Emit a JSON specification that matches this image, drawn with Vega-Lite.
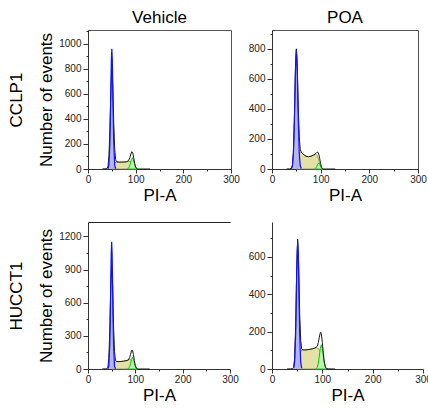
{
"$schema": "https://vega.github.io/schema/vega-lite/v6.json",
"padding": {"left": 7, "top": 8, "right": 0, "bottom": 0},
"background": "white",
"data": {"values": [
{"p":"TL","c":"G1","x":42,"y":2},{"p":"TL","c":"G1","x":44,"y":32},{"p":"TL","c":"G1","x":46,"y":211},{"p":"TL","c":"G1","x":47,"y":410},{"p":"TL","c":"G1","x":48,"y":658},{"p":"TL","c":"G1","x":49,"y":874},{"p":"TL","c":"G1","x":50,"y":960},{"p":"TL","c":"G1","x":51,"y":874},{"p":"TL","c":"G1","x":52,"y":658},{"p":"TL","c":"G1","x":53,"y":410},{"p":"TL","c":"G1","x":54,"y":211},{"p":"TL","c":"G1","x":56,"y":32},{"p":"TL","c":"G1","x":58,"y":2},
{"p":"TL","c":"S","x":50,"y":0},{"p":"TL","c":"S","x":53,"y":30},{"p":"TL","c":"S","x":56,"y":50},{"p":"TL","c":"S","x":60,"y":55},{"p":"TL","c":"S","x":70,"y":55},{"p":"TL","c":"S","x":80,"y":57},{"p":"TL","c":"S","x":88,"y":60},{"p":"TL","c":"S","x":90,"y":58},{"p":"TL","c":"S","x":92,"y":52},{"p":"TL","c":"S","x":94,"y":40},{"p":"TL","c":"S","x":96,"y":25},{"p":"TL","c":"S","x":98,"y":12},{"p":"TL","c":"S","x":100,"y":4},{"p":"TL","c":"S","x":102,"y":0},
{"p":"TL","c":"G2","x":83,"y":2},{"p":"TL","c":"G2","x":85,"y":7},{"p":"TL","c":"G2","x":87,"y":21},{"p":"TL","c":"G2","x":89,"y":47},{"p":"TL","c":"G2","x":91,"y":76},{"p":"TL","c":"G2","x":93,"y":90},{"p":"TL","c":"G2","x":95,"y":76},{"p":"TL","c":"G2","x":97,"y":47},{"p":"TL","c":"G2","x":99,"y":21},{"p":"TL","c":"G2","x":101,"y":7},{"p":"TL","c":"G2","x":103,"y":2},
{"p":"TL","c":"T","x":30,"y":0},{"p":"TL","c":"T","x":36,"y":2},{"p":"TL","c":"T","x":40,"y":3},{"p":"TL","c":"T","x":42,"y":23},{"p":"TL","c":"T","x":44,"y":108},{"p":"TL","c":"T","x":46,"y":329},{"p":"TL","c":"T","x":48,"y":641},{"p":"TL","c":"T","x":50,"y":800},{"p":"TL","c":"T","x":52,"y":661},{"p":"TL","c":"T","x":54,"y":366},{"p":"TL","c":"T","x":56,"y":158},{"p":"TL","c":"T","x":58,"y":75},{"p":"TL","c":"T","x":60,"y":58},{"p":"TL","c":"T","x":65,"y":55},{"p":"TL","c":"T","x":70,"y":55},{"p":"TL","c":"T","x":75,"y":56},{"p":"TL","c":"T","x":80,"y":57},{"p":"TL","c":"T","x":85,"y":66},{"p":"TL","c":"T","x":88,"y":92},{"p":"TL","c":"T","x":90,"y":120},{"p":"TL","c":"T","x":92,"y":138},{"p":"TL","c":"T","x":94,"y":126},{"p":"TL","c":"T","x":96,"y":87},{"p":"TL","c":"T","x":98,"y":44},{"p":"TL","c":"T","x":100,"y":16},{"p":"TL","c":"T","x":102,"y":4},{"p":"TL","c":"T","x":104,"y":1},{"p":"TL","c":"T","x":106,"y":0},{"p":"TL","c":"T","x":130,"y":0},
{"p":"TR","c":"G1","x":40,"y":3},{"p":"TR","c":"G1","x":42,"y":23},{"p":"TR","c":"G1","x":44,"y":107},{"p":"TR","c":"G1","x":46,"y":325},{"p":"TR","c":"G1","x":47,"y":480},{"p":"TR","c":"G1","x":48,"y":633},{"p":"TR","c":"G1","x":49,"y":747},{"p":"TR","c":"G1","x":50,"y":790},{"p":"TR","c":"G1","x":51,"y":747},{"p":"TR","c":"G1","x":52,"y":633},{"p":"TR","c":"G1","x":53,"y":480},{"p":"TR","c":"G1","x":54,"y":325},{"p":"TR","c":"G1","x":56,"y":107},{"p":"TR","c":"G1","x":58,"y":23},{"p":"TR","c":"G1","x":60,"y":3},
{"p":"TR","c":"S","x":50,"y":0},{"p":"TR","c":"S","x":53,"y":60},{"p":"TR","c":"S","x":56,"y":105},{"p":"TR","c":"S","x":60,"y":110},{"p":"TR","c":"S","x":65,"y":95},{"p":"TR","c":"S","x":70,"y":85},{"p":"TR","c":"S","x":75,"y":82},{"p":"TR","c":"S","x":80,"y":85},{"p":"TR","c":"S","x":85,"y":92},{"p":"TR","c":"S","x":90,"y":98},{"p":"TR","c":"S","x":93,"y":90},{"p":"TR","c":"S","x":96,"y":60},{"p":"TR","c":"S","x":99,"y":25},{"p":"TR","c":"S","x":102,"y":5},{"p":"TR","c":"S","x":104,"y":0},
{"p":"TR","c":"G2","x":88,"y":1},{"p":"TR","c":"G2","x":90,"y":5},{"p":"TR","c":"G2","x":92,"y":17},{"p":"TR","c":"G2","x":94,"y":32},{"p":"TR","c":"G2","x":96,"y":40},{"p":"TR","c":"G2","x":98,"y":32},{"p":"TR","c":"G2","x":100,"y":17},{"p":"TR","c":"G2","x":102,"y":5},{"p":"TR","c":"G2","x":104,"y":1},
{"p":"TR","c":"T","x":30,"y":0},{"p":"TR","c":"T","x":36,"y":1},{"p":"TR","c":"T","x":40,"y":4},{"p":"TR","c":"T","x":42,"y":24},{"p":"TR","c":"T","x":44,"y":108},{"p":"TR","c":"T","x":46,"y":330},{"p":"TR","c":"T","x":48,"y":640},{"p":"TR","c":"T","x":50,"y":800},{"p":"TR","c":"T","x":52,"y":680},{"p":"TR","c":"T","x":54,"y":405},{"p":"TR","c":"T","x":56,"y":213},{"p":"TR","c":"T","x":58,"y":131},{"p":"TR","c":"T","x":60,"y":113},{"p":"TR","c":"T","x":65,"y":95},{"p":"TR","c":"T","x":70,"y":85},{"p":"TR","c":"T","x":75,"y":82},{"p":"TR","c":"T","x":80,"y":85},{"p":"TR","c":"T","x":85,"y":92},{"p":"TR","c":"T","x":88,"y":97},{"p":"TR","c":"T","x":90,"y":103},{"p":"TR","c":"T","x":92,"y":110},{"p":"TR","c":"T","x":94,"y":112},{"p":"TR","c":"T","x":96,"y":100},{"p":"TR","c":"T","x":98,"y":69},{"p":"TR","c":"T","x":100,"y":35},{"p":"TR","c":"T","x":102,"y":10},{"p":"TR","c":"T","x":104,"y":2},{"p":"TR","c":"T","x":106,"y":0},{"p":"TR","c":"T","x":130,"y":0},
{"p":"BL","c":"G1","x":42,"y":2},{"p":"BL","c":"G1","x":44,"y":28},{"p":"BL","c":"G1","x":46,"y":220},{"p":"BL","c":"G1","x":47,"y":454},{"p":"BL","c":"G1","x":48,"y":761},{"p":"BL","c":"G1","x":49,"y":1037},{"p":"BL","c":"G1","x":50,"y":1150},{"p":"BL","c":"G1","x":51,"y":1037},{"p":"BL","c":"G1","x":52,"y":761},{"p":"BL","c":"G1","x":53,"y":454},{"p":"BL","c":"G1","x":54,"y":220},{"p":"BL","c":"G1","x":56,"y":28},{"p":"BL","c":"G1","x":58,"y":2},
{"p":"BL","c":"S","x":50,"y":0},{"p":"BL","c":"S","x":53,"y":35},{"p":"BL","c":"S","x":56,"y":62},{"p":"BL","c":"S","x":60,"y":66},{"p":"BL","c":"S","x":70,"y":68},{"p":"BL","c":"S","x":80,"y":75},{"p":"BL","c":"S","x":88,"y":85},{"p":"BL","c":"S","x":92,"y":80},{"p":"BL","c":"S","x":95,"y":55},{"p":"BL","c":"S","x":98,"y":25},{"p":"BL","c":"S","x":101,"y":6},{"p":"BL","c":"S","x":104,"y":0},
{"p":"BL","c":"G2","x":84,"y":1},{"p":"BL","c":"G2","x":86,"y":6},{"p":"BL","c":"G2","x":88,"y":20},{"p":"BL","c":"G2","x":90,"y":50},{"p":"BL","c":"G2","x":92,"y":87},{"p":"BL","c":"G2","x":94,"y":105},{"p":"BL","c":"G2","x":96,"y":87},{"p":"BL","c":"G2","x":98,"y":50},{"p":"BL","c":"G2","x":100,"y":20},{"p":"BL","c":"G2","x":102,"y":6},{"p":"BL","c":"G2","x":104,"y":1},
{"p":"BL","c":"T","x":30,"y":0},{"p":"BL","c":"T","x":36,"y":1},{"p":"BL","c":"T","x":40,"y":2},{"p":"BL","c":"T","x":42,"y":16},{"p":"BL","c":"T","x":44,"y":95},{"p":"BL","c":"T","x":46,"y":340},{"p":"BL","c":"T","x":48,"y":732},{"p":"BL","c":"T","x":50,"y":945},{"p":"BL","c":"T","x":52,"y":755},{"p":"BL","c":"T","x":54,"y":384},{"p":"BL","c":"T","x":56,"y":157},{"p":"BL","c":"T","x":58,"y":80},{"p":"BL","c":"T","x":60,"y":68},{"p":"BL","c":"T","x":65,"y":67},{"p":"BL","c":"T","x":70,"y":68},{"p":"BL","c":"T","x":75,"y":71},{"p":"BL","c":"T","x":80,"y":75},{"p":"BL","c":"T","x":85,"y":81},{"p":"BL","c":"T","x":88,"y":105},{"p":"BL","c":"T","x":90,"y":132},{"p":"BL","c":"T","x":92,"y":167},{"p":"BL","c":"T","x":93,"y":172},{"p":"BL","c":"T","x":94,"y":168},{"p":"BL","c":"T","x":96,"y":132},{"p":"BL","c":"T","x":98,"y":75},{"p":"BL","c":"T","x":100,"y":32},{"p":"BL","c":"T","x":102,"y":10},{"p":"BL","c":"T","x":104,"y":2},{"p":"BL","c":"T","x":106,"y":0},{"p":"BL","c":"T","x":130,"y":0},
{"p":"BR","c":"G1","x":43,"y":4},{"p":"BR","c":"G1","x":45,"y":38},{"p":"BR","c":"G1","x":47,"y":189},{"p":"BR","c":"G1","x":48,"y":331},{"p":"BR","c":"G1","x":49,"y":494},{"p":"BR","c":"G1","x":50,"y":628},{"p":"BR","c":"G1","x":51,"y":680},{"p":"BR","c":"G1","x":52,"y":628},{"p":"BR","c":"G1","x":53,"y":494},{"p":"BR","c":"G1","x":54,"y":331},{"p":"BR","c":"G1","x":55,"y":189},{"p":"BR","c":"G1","x":57,"y":38},{"p":"BR","c":"G1","x":59,"y":4},
{"p":"BR","c":"S","x":51,"y":0},{"p":"BR","c":"S","x":54,"y":50},{"p":"BR","c":"S","x":57,"y":95},{"p":"BR","c":"S","x":60,"y":102},{"p":"BR","c":"S","x":70,"y":103},{"p":"BR","c":"S","x":80,"y":108},{"p":"BR","c":"S","x":88,"y":115},{"p":"BR","c":"S","x":93,"y":110},{"p":"BR","c":"S","x":96,"y":85},{"p":"BR","c":"S","x":99,"y":45},{"p":"BR","c":"S","x":102,"y":15},{"p":"BR","c":"S","x":105,"y":3},{"p":"BR","c":"S","x":107,"y":0},
{"p":"BR","c":"G2","x":88,"y":2},{"p":"BR","c":"G2","x":90,"y":9},{"p":"BR","c":"G2","x":92,"y":30},{"p":"BR","c":"G2","x":94,"y":68},{"p":"BR","c":"G2","x":96,"y":110},{"p":"BR","c":"G2","x":98,"y":130},{"p":"BR","c":"G2","x":100,"y":110},{"p":"BR","c":"G2","x":102,"y":68},{"p":"BR","c":"G2","x":104,"y":30},{"p":"BR","c":"G2","x":106,"y":9},{"p":"BR","c":"G2","x":108,"y":2},
{"p":"BR","c":"T","x":30,"y":0},{"p":"BR","c":"T","x":37,"y":1},{"p":"BR","c":"T","x":41,"y":2},{"p":"BR","c":"T","x":43,"y":8},{"p":"BR","c":"T","x":45,"y":59},{"p":"BR","c":"T","x":47,"y":232},{"p":"BR","c":"T","x":49,"y":528},{"p":"BR","c":"T","x":51,"y":695},{"p":"BR","c":"T","x":53,"y":561},{"p":"BR","c":"T","x":55,"y":297},{"p":"BR","c":"T","x":57,"y":154},{"p":"BR","c":"T","x":59,"y":108},{"p":"BR","c":"T","x":61,"y":102},{"p":"BR","c":"T","x":65,"y":102},{"p":"BR","c":"T","x":70,"y":103},{"p":"BR","c":"T","x":75,"y":105},{"p":"BR","c":"T","x":80,"y":108},{"p":"BR","c":"T","x":85,"y":112},{"p":"BR","c":"T","x":88,"y":117},{"p":"BR","c":"T","x":90,"y":122},{"p":"BR","c":"T","x":92,"y":142},{"p":"BR","c":"T","x":94,"y":170},{"p":"BR","c":"T","x":96,"y":195},{"p":"BR","c":"T","x":97,"y":197},{"p":"BR","c":"T","x":98,"y":188},{"p":"BR","c":"T","x":100,"y":142},{"p":"BR","c":"T","x":102,"y":83},{"p":"BR","c":"T","x":104,"y":37},{"p":"BR","c":"T","x":106,"y":11},{"p":"BR","c":"T","x":108,"y":3},{"p":"BR","c":"T","x":112,"y":1},{"p":"BR","c":"T","x":125,"y":0}
]},
"columns": 2,
"bounds": "flush",
"spacing": {"row": 53, "column": 41},
"concat": [
{
 "width": 143, "height": 139,
 "title": {"text": "Vehicle"},
 "view": {"stroke": "#555"},
 "transform": [{"filter": "datum.p === 'TL'"}],
 "encoding": {
  "x": {"field": "x", "type": "quantitative", "scale": {"domain": [0, 300], "nice": false}, "axis": {"values": [0, 50, 100, 150, 200, 250, 300], "labelExpr": "datum.value % 100 === 0 ? datum.label : ''", "labelFontSize": {"condition": {"test": "datum.value % 100 === 0", "value": 10}, "value": 0}, "tickSize": {"condition": {"test": "datum.value % 100 === 0", "value": 4}, "value": 2}, "title": "PI-A"}},
  "y": {"field": "y", "type": "quantitative", "scale": {"domain": [0, 1110], "nice": false}, "axis": {"values": [0, 100, 200, 300, 400, 500, 600, 700, 800, 900, 1000, 1100], "format": "d", "labelExpr": "datum.value % 200 === 0 ? datum.label : ''", "labelFontSize": {"condition": {"test": "datum.value % 200 === 0", "value": 10}, "value": 0}, "tickSize": {"condition": {"test": "datum.value % 200 === 0", "value": 5}, "value": 2}, "title": ["CCLP1", "Number of events"], "titleLineHeight": 30}}
 },
 "layer": [
  {"transform": [{"filter": "datum.c === 'S'"}], "mark": {"type": "area", "fill": "#e4e1a6", "stroke": "#8c8a5a", "strokeWidth": 0.8}},
  {"transform": [{"filter": "datum.c === 'G2'"}], "mark": {"type": "area", "fill": "#bdf2b4", "stroke": "#00cc00", "strokeWidth": 1}},
  {"transform": [{"filter": "datum.c === 'G1'"}], "mark": {"type": "area", "fill": "#aeaef4", "opacity": 0.9}},
  {"transform": [{"filter": "datum.c === 'T'"}], "mark": {"type": "line", "stroke": "#1a1a1a", "strokeWidth": 1}},
  {"transform": [{"filter": "datum.c === 'G1'"}], "mark": {"type": "line", "stroke": "#1010ff", "strokeWidth": 1.2}}
 ]
},
{
 "width": 146, "height": 139,
 "title": {"text": "POA"},
 "view": {"stroke": "#555"},
 "transform": [{"filter": "datum.p === 'TR'"}],
 "encoding": {
  "x": {"field": "x", "type": "quantitative", "scale": {"domain": [0, 300], "nice": false}, "axis": {"values": [0, 50, 100, 150, 200, 250, 300], "labelExpr": "datum.value % 100 === 0 ? datum.label : ''", "labelFontSize": {"condition": {"test": "datum.value % 100 === 0", "value": 10}, "value": 0}, "tickSize": {"condition": {"test": "datum.value % 100 === 0", "value": 4}, "value": 2}, "title": "PI-A"}},
  "y": {"field": "y", "type": "quantitative", "scale": {"domain": [0, 925], "nice": false}, "axis": {"values": [0, 100, 200, 300, 400, 500, 600, 700, 800, 900], "format": "d", "labelExpr": "datum.value % 200 === 0 ? datum.label : ''", "labelFontSize": {"condition": {"test": "datum.value % 200 === 0", "value": 10}, "value": 0}, "tickSize": {"condition": {"test": "datum.value % 200 === 0", "value": 5}, "value": 2}, "title": null}}
 },
 "layer": [
  {"transform": [{"filter": "datum.c === 'S'"}], "mark": {"type": "area", "fill": "#e4e1a6", "stroke": "#8c8a5a", "strokeWidth": 0.8}},
  {"transform": [{"filter": "datum.c === 'G2'"}], "mark": {"type": "area", "fill": "#bdf2b4", "stroke": "#00cc00", "strokeWidth": 1}},
  {"transform": [{"filter": "datum.c === 'G1'"}], "mark": {"type": "area", "fill": "#aeaef4", "opacity": 0.9}},
  {"transform": [{"filter": "datum.c === 'T'"}], "mark": {"type": "line", "stroke": "#1a1a1a", "strokeWidth": 1}},
  {"transform": [{"filter": "datum.c === 'G1'"}], "mark": {"type": "line", "stroke": "#1010ff", "strokeWidth": 1.2}}
 ]
},
{
 "width": 142, "height": 147,
 "transform": [{"filter": "datum.p === 'BL'"}],
 "encoding": {
  "x": {"field": "x", "type": "quantitative", "scale": {"domain": [0, 300], "nice": false}, "axis": null},
  "y": {"field": "y", "type": "quantitative", "scale": {"domain": [0, 1330], "nice": false}, "axis": {"values": [0, 150, 300, 450, 600, 750, 900, 1050, 1200], "format": "d", "labelExpr": "datum.value % 300 === 0 ? datum.label : ''", "labelFontSize": {"condition": {"test": "datum.value % 300 === 0", "value": 10}, "value": 0}, "tickSize": {"condition": {"test": "datum.value % 300 === 0", "value": 5}, "value": 2}, "title": ["HUCCT1", "Number of events"], "titleLineHeight": 30}}
 },
 "layer": [
  {"transform": [{"filter": "datum.c === 'S'"}], "mark": {"type": "area", "fill": "#e4e1a6", "stroke": "#8c8a5a", "strokeWidth": 0.8},
   "encoding": {"x": {"field": "x", "type": "quantitative", "scale": {"domain": [0, 300], "nice": false}, "axis": {"values": [0, 50, 100, 150, 200, 250, 300], "labelExpr": "datum.value % 100 === 0 ? datum.label : ''", "labelFontSize": {"condition": {"test": "datum.value % 100 === 0", "value": 10}, "value": 0}, "tickSize": {"condition": {"test": "datum.value % 100 === 0", "value": 4}, "value": 2}, "title": "PI-A"}}}},
  {"transform": [{"filter": "datum.c === 'G2'"}], "mark": {"type": "area", "fill": "#bdf2b4", "stroke": "#00cc00", "strokeWidth": 1}},
  {"transform": [{"filter": "datum.c === 'G1'"}], "mark": {"type": "area", "fill": "#aeaef4", "opacity": 0.9}},
  {"transform": [{"filter": "datum.c === 'T'"}], "mark": {"type": "line", "stroke": "#1a1a1a", "strokeWidth": 1}},
  {"transform": [{"filter": "datum.c === 'G1'"}], "mark": {"type": "line", "stroke": "#1010ff", "strokeWidth": 1.2},
   "encoding": {"x": {"field": "x", "type": "quantitative", "scale": {"domain": [0, 300], "nice": false}, "axis": {"orient": "top", "ticks": false, "labels": false, "title": null, "domainColor": "#222"}}}}
 ],
 "resolve": {"axis": {"x": "independent"}}
},
{
 "width": 151, "height": 147,
 "transform": [{"filter": "datum.p === 'BR'"}],
 "encoding": {
  "x": {"field": "x", "type": "quantitative", "scale": {"domain": [0, 300], "nice": false}, "axis": {"values": [0, 50, 100, 150, 200, 250, 300], "labelExpr": "datum.value % 100 === 0 ? datum.label : ''", "labelFontSize": {"condition": {"test": "datum.value % 100 === 0", "value": 10}, "value": 0}, "tickSize": {"condition": {"test": "datum.value % 100 === 0", "value": 4}, "value": 2}, "title": "PI-A"}},
  "y": {"field": "y", "type": "quantitative", "scale": {"domain": [0, 787], "nice": false}, "axis": {"values": [0, 100, 200, 300, 400, 500, 600, 700], "format": "d", "labelExpr": "datum.value % 200 === 0 ? datum.label : ''", "labelFontSize": {"condition": {"test": "datum.value % 200 === 0", "value": 10}, "value": 0}, "tickSize": {"condition": {"test": "datum.value % 200 === 0", "value": 5}, "value": 2}, "title": null}}
 },
 "layer": [
  {"transform": [{"filter": "datum.c === 'S'"}], "mark": {"type": "area", "fill": "#e4e1a6", "stroke": "#8c8a5a", "strokeWidth": 0.8}},
  {"transform": [{"filter": "datum.c === 'G2'"}], "mark": {"type": "area", "fill": "#bdf2b4", "stroke": "#00cc00", "strokeWidth": 1}},
  {"transform": [{"filter": "datum.c === 'G1'"}], "mark": {"type": "area", "fill": "#aeaef4", "opacity": 0.9}},
  {"transform": [{"filter": "datum.c === 'T'"}], "mark": {"type": "line", "stroke": "#1a1a1a", "strokeWidth": 1}},
  {"transform": [{"filter": "datum.c === 'G1'"}], "mark": {"type": "line", "stroke": "#1010ff", "strokeWidth": 1.2}}
 ]
}
],
"config": {
 "font": "Liberation Sans",
 "view": {"stroke": null},
 "axis": {"grid": false, "labelColor": "#222", "titleFontSize": 17, "titleFontWeight": "normal", "titleColor": "#000", "domainColor": "#333", "tickColor": "#333", "labelFlush": false, "labelOverlap": false},
 "axisX": {"labelPadding": 1, "titlePadding": 3},
 "axisY": {"labelPadding": 2, "titlePadding": 3},
 "title": {"fontSize": 17, "fontWeight": "normal", "anchor": "middle", "frame": "group", "offset": 3, "color": "#000"}
}
}
